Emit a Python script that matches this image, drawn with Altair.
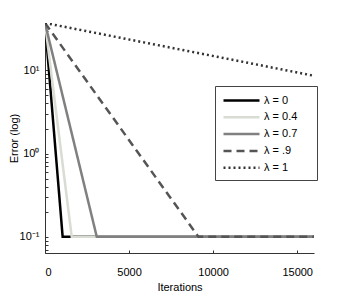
import altair as alt
import pandas as pd

# ---- data ----
series = ["λ = 0", "λ = 0.4", "λ = 0.7", "λ = .9", "λ = 1"]
start_error = [37, 37, 37, 37, 37]
floor_iter = [1050, 1590, 3080, 9130, 16000]
floor_error = [0.1, 0.1, 0.1, 0.1, 8.6]
end_iter = 16000

colors = ["#000000", "#d8dcd2", "#808080", "#555555", "#333333"]
dashes = [[1, 0], [1, 0], [1, 0], [8, 5], [2, 3]]

x_ticks = [0, 5000, 10000, 15000]
y_major = [0.1, 1, 10]
y_minor = [0.07, 0.08, 0.09, 0.2, 0.3, 0.4, 0.5, 0.6, 0.7, 0.8, 0.9,
           2, 3, 4, 5, 6, 7, 8, 9, 20, 30]

rows = []
for s, e0, ti, ef in zip(series, start_error, floor_iter, floor_error):
    rows.append({"series": s, "iter": 0, "err": e0})
    rows.append({"series": s, "iter": ti, "err": ef})
    rows.append({"series": s, "iter": end_iter, "err": ef})
df = pd.DataFrame(rows)

FONT = "Liberation Sans"
xscale = alt.Scale(domain=[0, 16000], nice=False, zero=False)
yscale = alt.Scale(type="log", domain=[0.064, 37], nice=False)

leg = alt.Legend(
    title=None, orient="none", legendX=170, legendY=63,
    symbolType="M-1,0H5M12.5,0", symbolSize=144, symbolStrokeWidth=2.5,
    labelFontSize=11, labelFont=FONT, strokeColor="#444444",
    fillColor="white", padding=7, rowPadding=3.8, labelOffset=27,
)

base = alt.Chart(df).encode(
    x=alt.X("iter:Q", scale=xscale,
            axis=alt.Axis(orient="bottom", title="Iterations", values=x_ticks, tickSize=0,
                          labelPadding=13, titlePadding=4, format="d")),
    y=alt.Y("err:Q", scale=yscale,
            axis=alt.Axis(orient="left", title="Error (log)", values=y_major, tickSize=0,
                          labelPadding=6, titlePadding=0,
                          labelExpr="datum.value == 10 ? '10¹' : datum.value == 1 ? '10⁰' : '10⁻¹'")),
    color=alt.Color("series:N", scale=alt.Scale(domain=series, range=colors), legend=leg),
    strokeDash=alt.StrokeDash("series:N", scale=alt.Scale(domain=series, range=dashes), legend=leg),
)

main = alt.layer(*[
    base.transform_filter(alt.datum.series == s).mark_line(strokeWidth=2.5, clip=True)
    for s in series
])

ticks = alt.Chart(df).mark_line(opacity=0).encode(
    x=alt.X("iter:Q", scale=xscale,
            axis=alt.Axis(orient="bottom", offset=-3, tickSize=3, domain=False,
                          labels=False, title=None, values=x_ticks)),
    y=alt.Y("err:Q", scale=yscale,
            axis=alt.Axis(orient="left", offset=-3, tickSize=3, domain=False,
                          labels=False, title=None, values=y_major + y_minor)),
)

chart = alt.layer(main, ticks).resolve_axis(
    x="independent", y="independent"
).properties(
    width=269, height=230,
    autosize=alt.AutoSizeParams(type="none"),
    padding={"left": 37, "top": 15, "right": 24, "bottom": 41},
).configure_view(stroke=None).configure_axis(
    grid=False, domainColor="#333333", tickColor="#333333",
    labelFont=FONT, titleFont=FONT, labelFontSize=11, titleFontSize=11,
    titleFontWeight="normal", labelColor="#000000", titleColor="#000000",
)

chart.save("out.html", embed_options={"renderer": "svg", "actions": False})
